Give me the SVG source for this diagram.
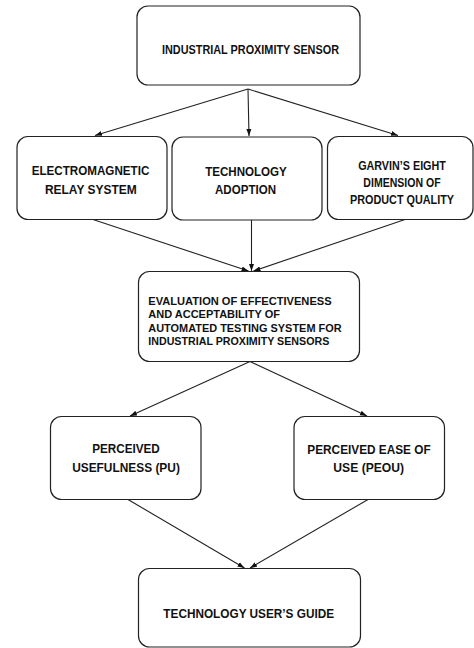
<svg xmlns="http://www.w3.org/2000/svg" width="474" height="648" viewBox="0 0 474 648">
<style>
.box{fill:#fff;stroke:#222;stroke-width:1.2}
.t{font-family:"Liberation Sans",Arial,sans-serif;font-weight:bold;fill:#111;text-anchor:middle}
.s12{font-size:12.5px}
.s13{font-size:13.5px}
.s11{font-size:11.5px}
.l{text-anchor:start}
.c{fill:none;stroke:#222;stroke-width:1.1;marker-end:url(#ah)}
</style>
<defs>
<marker id="ah" markerUnits="userSpaceOnUse" markerWidth="8" markerHeight="6" refX="7" refY="3" orient="auto">
<path d="M0,0.5 L7,3 L0,5.5 z" fill="#111"/>
</marker>
</defs>
<rect width="474" height="648" fill="#fff"/>
<g id="connectors">
<line class="c" x1="248" y1="89" x2="95" y2="135.5"/>
<line class="c" x1="248" y1="89" x2="249" y2="136"/>
<line class="c" x1="248" y1="89" x2="398" y2="135.5"/>
<line class="c" x1="93" y1="219.5" x2="248.5" y2="271"/>
<line class="c" x1="251.5" y1="220" x2="251.5" y2="271"/>
<line class="c" x1="405" y1="219.5" x2="253.5" y2="271"/>
<line class="c" x1="250" y1="361.5" x2="130" y2="416"/>
<line class="c" x1="250" y1="361.5" x2="367" y2="416"/>
<line class="c" x1="128" y1="499.5" x2="244.5" y2="568"/>
<line class="c" x1="368" y1="499.5" x2="250" y2="568"/>
</g>
<g id="n-sensor">
<rect class="box" x="137" y="6" width="223" height="79" rx="11"/>
<text class="t s12" x="250.5" y="54" textLength="177" lengthAdjust="spacingAndGlyphs">INDUSTRIAL PROXIMITY SENSOR</text>
</g>
<g id="n-relay">
<rect class="box" x="17" y="136.5" width="150" height="83" rx="11"/>
<text class="t s13" x="90.5" y="175" textLength="117.6" lengthAdjust="spacingAndGlyphs">ELECTROMAGNETIC</text>
<text class="t s13" x="90.8" y="194" textLength="91.7" lengthAdjust="spacingAndGlyphs">RELAY SYSTEM</text>
</g>
<g id="n-adoption">
<rect class="box" x="172" y="137" width="150" height="83" rx="11"/>
<text class="t s13" x="246" y="176" textLength="81.7" lengthAdjust="spacingAndGlyphs">TECHNOLOGY</text>
<text class="t s13" x="245.5" y="194" textLength="61" lengthAdjust="spacingAndGlyphs">ADOPTION</text>
</g>
<g id="n-garvin">
<rect class="box" x="327.5" y="136.5" width="145.5" height="83" rx="11"/>
<text class="t s12" x="402" y="169.5" textLength="87.7" lengthAdjust="spacingAndGlyphs">GARVIN’S EIGHT</text>
<text class="t s12" x="402" y="186.5" textLength="77.3" lengthAdjust="spacingAndGlyphs">DIMENSION OF</text>
<text class="t s12" x="402" y="203.5" textLength="104" lengthAdjust="spacingAndGlyphs">PRODUCT QUALITY</text>
</g>
<g id="n-evaluation">
<rect class="box" x="138.5" y="271.5" width="221" height="90" rx="11"/>
<text class="t s11 l" x="148.3" y="305" textLength="183.3" lengthAdjust="spacingAndGlyphs">EVALUATION OF EFFECTIVENESS</text>
<text class="t s11 l" x="148.3" y="318.3" textLength="131.7" lengthAdjust="spacingAndGlyphs">AND ACCEPTABILITY OF</text>
<text class="t s11 l" x="148.3" y="331.7" textLength="193.3" lengthAdjust="spacingAndGlyphs">AUTOMATED TESTING SYSTEM FOR</text>
<text class="t s11 l" x="148.3" y="345" textLength="181" lengthAdjust="spacingAndGlyphs">INDUSTRIAL PROXIMITY SENSORS</text>
</g>
<g id="n-pu">
<rect class="box" x="50.5" y="416.5" width="150.5" height="83" rx="11"/>
<text class="t s13" x="126" y="453.3" textLength="67.7" lengthAdjust="spacingAndGlyphs">PERCEIVED</text>
<text class="t s13" x="126" y="472" textLength="107.7" lengthAdjust="spacingAndGlyphs">USEFULNESS (PU)</text>
</g>
<g id="n-peou">
<rect class="box" x="294" y="416.5" width="150.5" height="83" rx="11"/>
<text class="t s13" x="369" y="454" textLength="123.3" lengthAdjust="spacingAndGlyphs">PERCEIVED EASE OF</text>
<text class="t s13" x="368.7" y="472" textLength="70.7" lengthAdjust="spacingAndGlyphs">USE (PEOU)</text>
</g>
<g id="n-guide">
<rect class="box" x="138.5" y="568.5" width="222" height="78.5" rx="11"/>
<text class="t s13" x="248.7" y="618" textLength="170.7" lengthAdjust="spacingAndGlyphs">TECHNOLOGY USER’S GUIDE</text>
</g>
</svg>
